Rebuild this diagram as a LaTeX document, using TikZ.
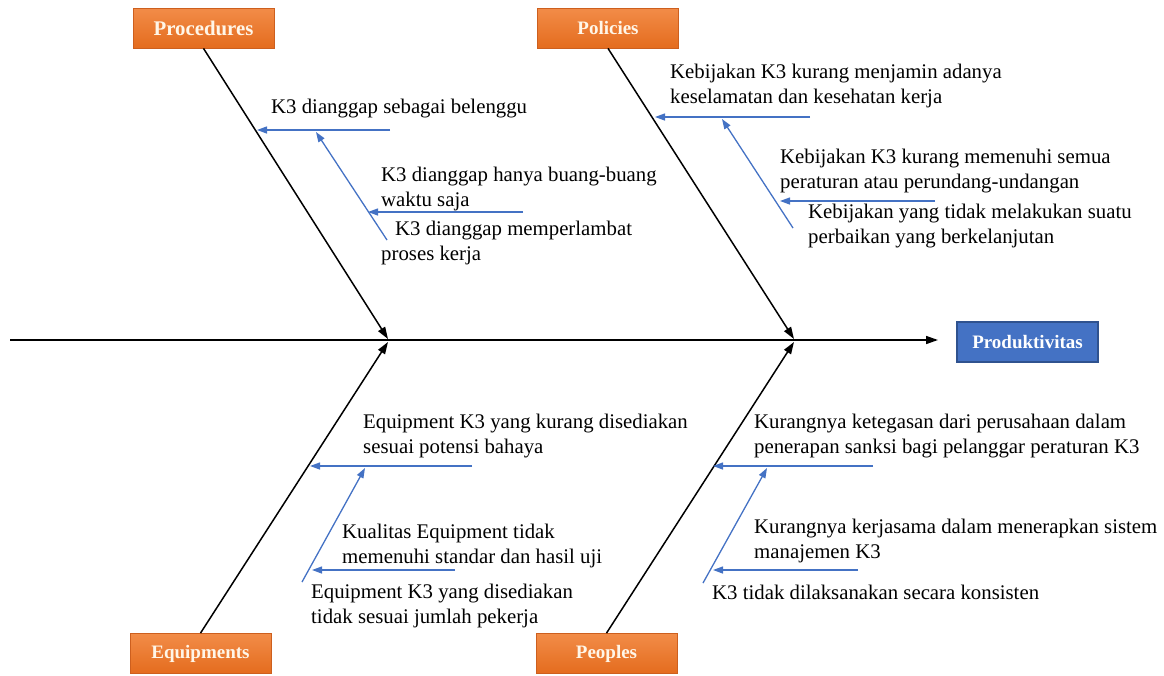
\documentclass[tikz,border=0pt]{standalone}
\usepackage{fontspec}
\setmainfont{Liberation Serif}
\usetikzlibrary{arrows.meta}
\definecolor{orgA}{RGB}{242,140,72}
\definecolor{orgB}{RGB}{228,108,30}
\definecolor{orgE}{RGB}{205,95,30}
\definecolor{blu}{RGB}{68,114,196}
\definecolor{bluE}{RGB}{47,82,143}
\definecolor{cream}{RGB}{255,246,232}
\tikzset{
  cat/.style={draw=orgE, line width=0.8pt, top color=orgA, bottom color=orgB,
    minimum width=141pt, minimum height=40pt, inner sep=0pt,
    font=\fontsize{19}{22}\selectfont\bfseries, text=cream},
  res/.style={draw=bluE, line width=1.2pt, fill=blu,
    minimum width=141pt, minimum height=40pt, inner sep=0pt,
    font=\fontsize{19}{22}\selectfont\bfseries, text=white},
  bone/.style={line width=1.5pt, black, -{Triangle[length=12pt,width=8pt]}},
  sub/.style={line width=1.3pt, blu, -{Triangle[length=10pt,width=7pt]}},
  lbl/.style={anchor=base west, align=left, inner sep=0pt,
    font=\fontsize{20.8}{25}\selectfont},
}
\begin{document}
\begin{tikzpicture}[x=1pt,y=-1pt]
\useasboundingbox (0,0) rectangle (1164,675);
% category boxes
\node[cat, font=\fontsize{20.8}{22}\selectfont\bfseries] (proc) at (203.5,28) {Procedures};
\node[cat] (pol) at (608,28) {Policies};
\node[cat] (equ) at (200.5,653.5) {Equipments};
\node[cat] (peo) at (606.5,653.5) {Peoples};
\node[res] (prod) at (1027.5,342) {Produktivitas};
% spine
\coordinate (s0) at (10,340);
\coordinate (s1) at (938,340);
\draw[bone] (s0) -- (s1);
% junctions
\coordinate (j1u) at (388,339);
\coordinate (j1d) at (388,342);
\coordinate (j2u) at (794,339);
\coordinate (j2d) at (794,342);
\draw[bone] (proc.south) -- (j1u);
\draw[bone] (pol.south) -- (j2u);
\draw[bone] (equ.north) -- (j1d);
\draw[bone] (peo.north) -- (j2d);
% Procedures sub-branches
\coordinate (p1s) at (390,130); \coordinate (p1e) at (257,130);
\coordinate (p2s) at (387,240); \coordinate (p2e) at (316,132);
\coordinate (p3s) at (523,212); \coordinate (p3e) at (368,212);
\draw[sub] (p1s) -- (p1e);
\draw[sub] (p2s) -- (p2e);
\draw[sub] (p3s) -- (p3e);
\node[lbl] (tp1) at (271,113) {K3 dianggap sebagai belenggu};
\node[lbl] (tp2) at (381,206) {K3 dianggap hanya buang-buang\\waktu saja};
\node[lbl] (tp3) at (381,260) {\hspace*{14pt}K3 dianggap memperlambat\\proses kerja};
% Policies sub-branches
\coordinate (q1s) at (810,117); \coordinate (q1e) at (655,117);
\coordinate (q2s) at (793,228); \coordinate (q2e) at (722,119);
\coordinate (q3s) at (935,201); \coordinate (q3e) at (780,201);
\draw[sub] (q1s) -- (q1e);
\draw[sub] (q2s) -- (q2e);
\draw[sub] (q3s) -- (q3e);
\node[lbl] (tq1) at (670,103) {Kebijakan K3 kurang menjamin adanya\\keselamatan dan kesehatan kerja};
\node[lbl] (tq2) at (780,188) {Kebijakan K3 kurang memenuhi semua\\peraturan atau perundang-undangan};
\node[lbl] (tq3) at (808,243) {Kebijakan yang tidak melakukan suatu\\perbaikan yang berkelanjutan};
% Equipments sub-branches
\coordinate (e1s) at (472,466); \coordinate (e1e) at (310,466);
\coordinate (e2s) at (302,582); \coordinate (e2e) at (365,468);
\coordinate (e3s) at (455,570); \coordinate (e3e) at (312,570);
\draw[sub] (e1s) -- (e1e);
\draw[sub] (e2s) -- (e2e);
\draw[sub] (e3s) -- (e3e);
\node[lbl] (te1) at (363,453) {Equipment K3 yang kurang disediakan\\sesuai potensi bahaya};
\node[lbl] (te2) at (342,563) {Kualitas Equipment tidak\\memenuhi standar dan hasil uji};
\node[lbl] (te3) at (311,623) {Equipment K3 yang disediakan\\tidak sesuai jumlah pekerja};
% Peoples sub-branches
\coordinate (r1s) at (873,466); \coordinate (r1e) at (713,466);
\coordinate (r2s) at (703,583); \coordinate (r2e) at (767,468);
\coordinate (r3s) at (858,570); \coordinate (r3e) at (713,570);
\draw[sub] (r1s) -- (r1e);
\draw[sub] (r2s) -- (r2e);
\draw[sub] (r3s) -- (r3e);
\node[lbl] (tr1) at (754,453) {Kurangnya ketegasan dari perusahaan dalam\\penerapan sanksi bagi pelanggar peraturan K3};
\node[lbl] (tr2) at (754,558) {Kurangnya kerjasama dalam menerapkan sistem\\manajemen K3};
\node[lbl] (tr3) at (712,599) {K3 tidak dilaksanakan secara konsisten};
\end{tikzpicture}
\end{document}
